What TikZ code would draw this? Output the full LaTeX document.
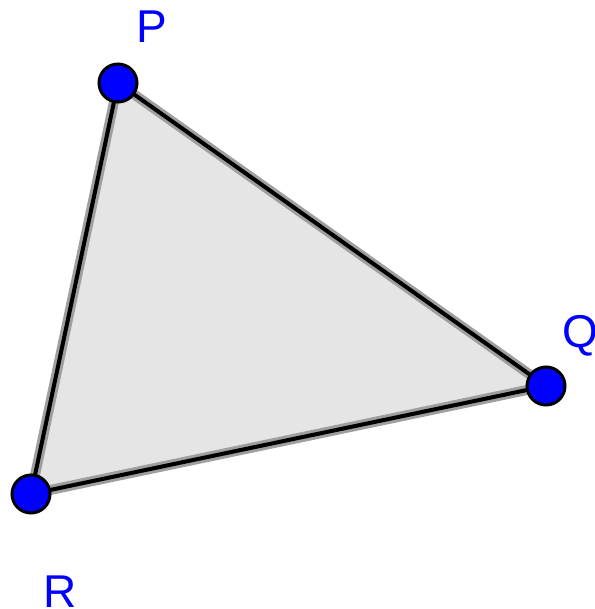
\documentclass[tikz,border=0pt]{standalone}
\usepackage{fontspec}
\setmainfont{Liberation Sans}
\usepackage{tikz}

\tikzset{
  vertex/.style={circle, draw=black, line width=3pt, fill=blue, minimum size=38pt, inner sep=0pt},
  vlabel/.style={text=blue, inner sep=0pt, font=\fontsize{46}{50}\selectfont},
  side/.style={black, line width=4pt},
  sideshadow/.style={gray!75, line width=10pt}
}

\begin{document}
\begin{tikzpicture}[x=1pt, y=-1pt]
				% Frame
				\useasboundingbox (0,0) rectangle (594,609);
				% Corners
				\coordinate (p) at (118,83);
				\coordinate (q) at (546,386);
				\coordinate (r) at (31,494);
				% Face
				\fill[gray!20] (p) -- (q) -- (r) -- cycle;
				% Sides
				\draw[sideshadow, shift={(2,2.5)}] (p) -- (q) -- (r) -- cycle;
				\draw[side] (p) -- (q) -- (r) -- cycle;
				% Points
				\node[vertex] (P) at (p) {};
				\node[vertex] (Q) at (q) {};
				\node[vertex] (R) at (r) {};
				% Labels
				\node[vlabel, anchor=base west] (lP) at (136,43) {P};
				\node[vlabel, anchor=base west] (lQ) at (562,347) {Q};
				\node[vlabel, anchor=base west] (lR) at (43,607) {R};
			\end{tikzpicture}
\end{document}
